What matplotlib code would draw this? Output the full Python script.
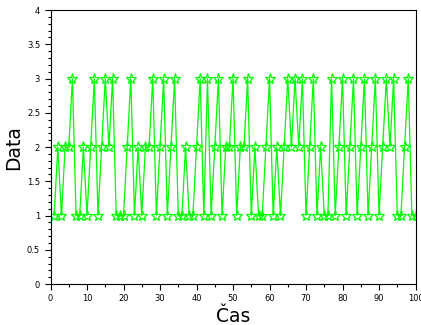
import numpy as np
import matplotlib
matplotlib.use('Agg')
import matplotlib.pyplot as plt
from matplotlib.ticker import MultipleLocator, FuncFormatter

# time steps and the measured level at each step
cas = np.arange(1, 101)
data = [1, 2, 1, 2, 2, 3, 1, 1, 2, 1,
        2, 3, 1, 2, 3, 2, 3, 1, 1, 1,
        2, 3, 1, 2, 1, 2, 2, 3, 1, 2,
        3, 1, 2, 3, 1, 1, 2, 1, 1, 2,
        3, 1, 3, 1, 2, 3, 1, 2, 2, 3,
        1, 2, 2, 3, 1, 2, 1, 1, 2, 3,
        1, 2, 1, 2, 3, 2, 3, 2, 3, 1,
        2, 3, 1, 2, 1, 1, 3, 1, 2, 3,
        1, 2, 3, 1, 2, 3, 1, 2, 3, 1,
        2, 3, 2, 3, 1, 1, 2, 3, 1, 1]

fig = plt.figure(figsize=(4.21, 3.25), dpi=100)
ax = fig.add_axes([0.12, 0.126, 0.867, 0.843])

ax.plot(cas, data, color='#00ff00', linewidth=0.9,
        marker='*', markersize=8, markerfacecolor='none',
        markeredgecolor='#00ff00', markeredgewidth=0.9)

ax.set_xlim(0, 100)
ax.set_ylim(0, 4)
ax.xaxis.set_major_locator(MultipleLocator(10))
ax.xaxis.set_minor_locator(MultipleLocator(5))
ax.yaxis.set_major_locator(MultipleLocator(0.5))
ax.yaxis.set_minor_locator(MultipleLocator(0.1))
ax.yaxis.set_major_formatter(FuncFormatter(lambda v, p: '%g' % v))

ax.tick_params(which='both', direction='out', labelsize=6, width=0.8)
ax.tick_params(which='major', length=4)
ax.tick_params(which='minor', length=2)
for s in ax.spines.values():
    s.set_linewidth(0.8)

ax.set_xlabel('Čas', fontsize=13.5)
ax.set_ylabel('Data', fontsize=13.5)
ax.xaxis.set_label_coords(0.5, -0.082)
ax.yaxis.set_label_coords(-0.075, 0.5)

fig.savefig('out.png', dpi=100)
